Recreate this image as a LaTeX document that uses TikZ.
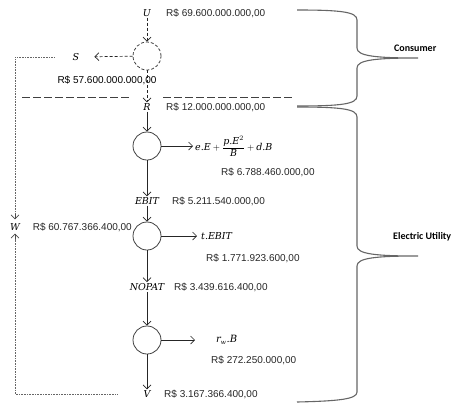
\documentclass[tikz,border=0pt]{standalone}
\usepackage{fontspec}
\setmainfont{Liberation Sans}
\newfontfamily\bracefont{Carlito}
\newfontfamily\varfont{DejaVu Serif}
\newcommand\vv[1]{\mbox{\varfont\itshape #1}}
\newcommand\vs[1]{\mbox{\varfont\itshape\fontsize{6}{7}\selectfont #1}}
\usetikzlibrary{arrows.meta}
\begin{document}
\begin{tikzpicture}[x=1pt,y=-1pt,
  every node/.style={inner sep=1pt, font=\fontsize{10}{12}\selectfont},
  var/.style={font=\varfont\itshape\fontsize{9.5}{11}\selectfont},
  val/.style={anchor=west, text=black!85},
  opcircle/.style={circle, draw=black!75, line width=0.8pt, minimum size=28pt, inner sep=0pt},
  flow/.style={draw=black!85, line width=0.7pt, -{Straight Barb[length=4pt,width=8pt]}},
  dflow/.style={flow, dash pattern=on 3pt off 2pt},
  feedbackline/.style={draw=black!60, line width=0.6pt, dash pattern=on 0.8pt off 0.8pt},
  feedbacktip/.style={draw=black!70, line width=0.6pt, -{Straight Barb[length=4pt,width=8pt]}},
  border/.style={draw=black!75, line width=0.8pt, dash pattern=on 8pt off 3pt},
  brace/.style={draw=black!60, line width=1.1pt},
  bracelabel/.style={anchor=west, font=\bracefont\bfseries\fontsize{10}{12}\selectfont}
]
\useasboundingbox (0,0) rectangle (457,402);
\clip (0,0) rectangle (457,402);

% consumer stage
\node[var] (U) at (147,13) {U};
\node[val] (Uv) at (165,13) {R\$ 69.600.000.000,00};
\node[opcircle, dash pattern=on 3pt off 2pt] (c1) at (147,56) {};
\node[var] (S) at (76,57) {S};
\node (Sv) at (107,80) {R\$ 57.600.000.000,00};
\node[var] (R) at (147,107) {R};
\node[val] (Rv) at (165,107) {R\$ 12.000.000.000,00};

\draw[dflow] (U) -- (c1);
\draw[dflow, shorten >=14pt] (c1) -- (S);
\draw[dflow] (c1) -- (R);

% boundary between consumer and utility
\draw[border] (22,97) -- (130,97);
\draw[border] (163,97) -- (293,97);

% utility stage
\node[opcircle] (c2) at (147,146) {};
\node[anchor=west, font=\fontsize{9.5}{11}\selectfont] (cost) at (194,146)
  {$\vv{e.E}+\displaystyle\frac{\vv{p.E}^{2}}{\vv{B}}+\vv{d.B}$};
\node[val] (costv) at (220,172) {R\$ 6.788.460.000,00};
\node[var] (EBIT) at (147,201) {EBIT};
\node[val] (EBITv) at (171,201) {R\$ 5.211.540.000,00};

\node[opcircle] (c3) at (147,236) {};
\node[var, anchor=west] (tax) at (200,236) {t.EBIT};
\node[val] (taxv) at (205,258) {R\$ 1.771.923.600,00};
\node[var] (NOPAT) at (147,287) {NOPAT};
\node[val] (NOPATv) at (173,287) {R\$ 3.439.616.400,00};

\node[opcircle] (c4) at (147,340) {};
\node[anchor=west] (capc) at (215,340) {$\vv{r}_{\vs{w}}\vv{.B}$};
\node[val] (capcv) at (210,360) {R\$ 272.250.000,00};
\node[var] (V) at (147,394) {V};
\node[val] (Vv) at (163,394) {R\$ 3.167.366.400,00};

\node[var] (W) at (15,227) {W};
\node[anchor=east, text=black!85] (Wv) at (133,227) {R\$ 60.767.366.400,00};

\draw[flow] (R) -- (c2);
\draw[flow, shorten >=1pt] (c2) -- (cost);
\draw[flow] (c2) -- (EBIT);
\draw[flow] (EBIT) -- (c3);
\draw[flow, shorten >=3pt] (c3) -- (tax);
\draw[flow] (c3) -- (NOPAT);
\draw[flow] (NOPAT) -- (c4);
\draw[flow, shorten >=20pt] (c4) -- (capc);
\draw[flow] (c4) -- (V);

% feedback into W: dotted runs with solid arrow heads
\draw[feedbackline] ([xshift=-17pt]S.west) -| ([yshift=8pt]W.north);
\draw[feedbacktip] ([yshift=8pt]W.north) -- ([yshift=3pt]W.north);
\draw[feedbackline] ([xshift=-25pt]V.west) -| ([yshift=-7pt]W.south);
\draw[feedbacktip] ([yshift=-7pt]W.south) -- ([yshift=-2pt]W.south);

% braces
\draw[brace] (297,10) .. controls (342,10) and (357,12) .. (357,20)
  -- (357,48) .. controls (357,56) and (375,58) .. (418,58)
  .. controls (375,58) and (357,60) .. (357,68)
  -- (357,96) .. controls (357,104) and (342,106) .. (297,106);
\node[bracelabel] (cons) at (393,48) {Consumer};

\draw[brace] (297,107) .. controls (342,107) and (357,109) .. (357,117)
  -- (357,246) .. controls (357,254) and (375,256) .. (418,256)
  .. controls (375,256) and (357,258) .. (357,266)
  -- (357,392) .. controls (357,399) and (340,401) .. (297,402);
\node[bracelabel] (util) at (392,237) {Electric Utility};
\end{tikzpicture}
\end{document}
